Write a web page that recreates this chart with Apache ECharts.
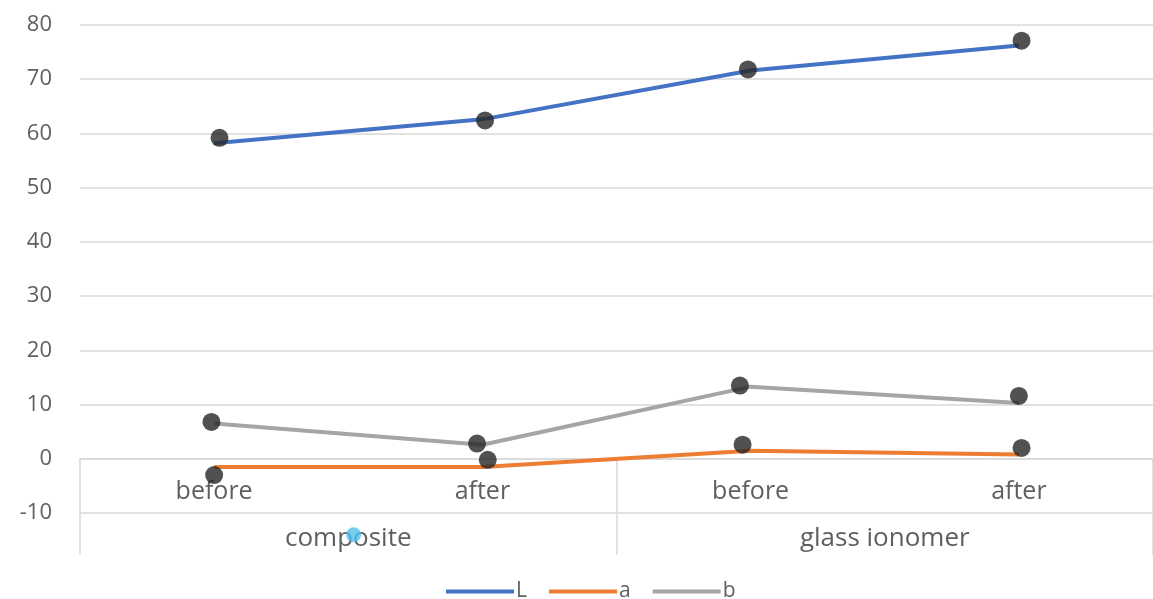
<!DOCTYPE html>
<html>
<head>
<meta charset="utf-8">
<script src="https://cdn.jsdelivr.net/npm/echarts@6/dist/echarts.min.js"></script>
<style>
  html, body { margin: 0; padding: 0; background: #ffffff; }
  #chart { width: 1153px; height: 599px; }
</style>
</head>
<body>
<div id="chart"></div>
<script>
// Stages and material groups on the two-level category axis
const stages = ['before', 'after', 'before', 'after'];
const materials = ['composite', 'glass ionomer'];

// CIE L*a*b* mean values per stage
const valuesL = [58.2, 62.6, 71.6, 76.2];
const valuesA = [-1.5, -1.5, 1.5, 0.8];
const valuesB = [6.5, 2.6, 13.3, 10.3];

// Individual measured points, [position along the axis (0–4), value]
const measuredPoints = [
  [0.52, 59.2], [1.51, 62.4], [2.49, 71.8], [3.51, 77.1],
  [0.49, 6.8], [1.48, 2.8], [2.46, 13.5], [3.50, 11.6],
  [0.50, -3.0], [1.52, -0.2], [2.47, 2.6], [3.51, 2.0]
];
// Stray highlight point below the axis
const highlightPoint = [[1.02, -14.0]];

// Value axis ticks
const yMin = -10, yMax = 80, yStep = 10;

const textColor = '#5f5f5f';
const gridColor = '#d9d9d9';
const fontFamily = '"Open Sans", sans-serif';

const chart = echarts.init(document.getElementById('chart'));
chart.setOption({
  animation: false,
  backgroundColor: '#ffffff',
  textStyle: { fontFamily: fontFamily },
  grid: { left: 80, top: 25, width: 1080, height: 488, containLabel: false },
  legend: {
    data: ['L', 'a', 'b'],
    left: 441,
    top: 576,
    icon: 'rect',
    itemWidth: 68,
    itemHeight: 4,
    itemGap: 22,
    textStyle: { color: textColor, fontSize: 21, fontFamily: fontFamily, padding: [0, 0, 0, -3] }
  },
  xAxis: [
    {
      // lower level: stage labels hanging from the zero line
      type: 'category',
      data: stages,
      position: 'bottom',
      offset: -54,
      boundaryGap: true,
      axisLine: { onZero: false, lineStyle: { color: gridColor, width: 1.5 } },
      axisTick: { show: false },
      axisLabel: { color: textColor, fontSize: 25, margin: 20, fontFamily: fontFamily }
    },
    {
      // upper level: material groups with divider ticks
      type: 'category',
      data: materials,
      position: 'bottom',
      offset: -54,
      boundaryGap: true,
      axisLine: { show: false },
      axisTick: { show: true, length: 96, lineStyle: { color: gridColor, width: 1.5 } },
      axisLabel: { color: textColor, fontSize: 26, margin: 67, fontFamily: fontFamily }
    },
    {
      type: 'value',
      min: 0,
      max: 4,
      show: false
    }
  ],
  yAxis: {
    type: 'value',
    min: yMin,
    max: yMax,
    interval: yStep,
    axisLine: { show: false },
    axisTick: { show: false },
    axisLabel: { color: textColor, fontSize: 22, margin: 28, fontFamily: fontFamily },
    splitLine: { lineStyle: { color: gridColor, width: 1.5 } }
  },
  series: [
    {
      name: 'L', type: 'line', xAxisIndex: 0, data: valuesL,
      showSymbol: false, symbol: 'none',
      itemStyle: { color: '#4472c4' },
      lineStyle: { color: '#4472c4', width: 4 }
    },
    {
      name: 'a', type: 'line', xAxisIndex: 0, data: valuesA,
      showSymbol: false, symbol: 'none',
      itemStyle: { color: '#ed7d31' },
      lineStyle: { color: '#ed7d31', width: 4 }
    },
    {
      name: 'b', type: 'line', xAxisIndex: 0, data: valuesB,
      showSymbol: false, symbol: 'none',
      itemStyle: { color: '#a5a5a5' },
      lineStyle: { color: '#a5a5a5', width: 4 }
    },
    {
      name: 'measured', type: 'scatter', xAxisIndex: 2, data: measuredPoints,
      symbol: 'circle', symbolSize: 18,
      itemStyle: { color: '#262626' },
      z: 5
    },
    {
      name: 'highlight', type: 'scatter', xAxisIndex: 2, data: highlightPoint,
      symbol: 'circle', symbolSize: 15, clip: false,
      itemStyle: { color: '#4fc0ec' },
      z: 6
    }
  ]
});
</script>
</body>
</html>
